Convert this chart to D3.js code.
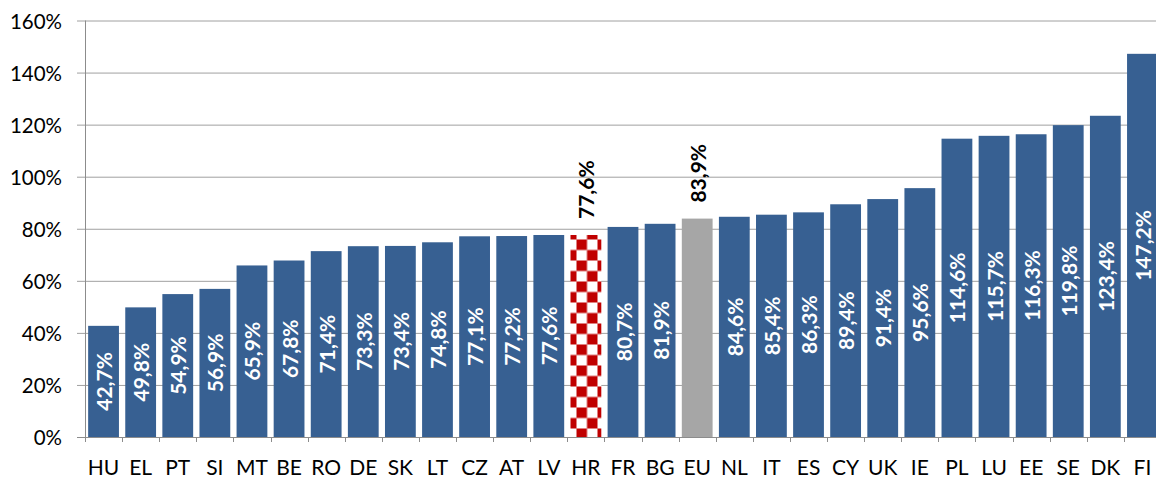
<!DOCTYPE html>
<html><head><meta charset="utf-8">
<script src="https://cdn.jsdelivr.net/npm/d3@7"></script>
<style>body{margin:0;background:#fff}svg{display:block}</style>
</head><body>
<svg id="c" width="1156" height="480"></svg>
<script>
const categories = ["HU","EL","PT","SI","MT","BE","RO","DE","SK","LT","CZ","AT","LV","HR","FR","BG","EU","NL","IT","ES","CY","UK","IE","PL","LU","EE","SE","DK","FI"];
const values = [42.7,49.8,54.9,56.9,65.9,67.8,71.4,73.3,73.4,74.8,77.1,77.2,77.6,77.6,80.7,81.9,83.9,84.6,85.4,86.3,89.4,91.4,95.6,114.6,115.7,116.3,119.8,123.4,147.2];
const yTicks = [0,20,40,60,80,100,120,140,160];
const highlightCountry = "HR";
const averageCategory = "EU";

(function(){
const data = categories.map((c,i)=>({c, v: values[i]}));
const svg = d3.select("#c");
const mLeft = 85, mRight = 1161, mTop = 20.5, mBottom = 437;
const font = "Lato, 'Open Sans', sans-serif";

const x = d3.scaleBand().domain(categories).range([mLeft, mRight]).paddingInner(0.17).paddingOuter(0.085);
const y = d3.scaleLinear().domain([0,160]).range([mBottom, mTop]);
const step = x.step();

// pattern
const defs = svg.append("defs");
const sq = 10.5;
const hx = x(highlightCountry), hv = values[categories.indexOf(highlightCountry)];
const pat = defs.append("pattern").attr("id","checker").attr("patternUnits","userSpaceOnUse")
  .attr("width", sq*2).attr("height", sq*2)
  .attr("x", hx + 6).attr("y", y(hv) + 4.5);
pat.append("rect").attr("width", sq*2).attr("height", sq*2).attr("fill","#fff");
pat.append("rect").attr("width", sq).attr("height", sq).attr("fill","#C00000");
pat.append("rect").attr("x", sq).attr("y", sq).attr("width", sq).attr("height", sq).attr("fill","#C00000");

// gridlines
svg.append("g").selectAll("line").data(yTicks.filter(t=>t>0)).join("line")
  .attr("x1", mLeft-8).attr("x2", mRight).attr("y1", d=>y(d)+0.5).attr("y2", d=>y(d)+0.5)
  .attr("stroke","#A0A0A0").attr("stroke-width",1);
svg.append("line").attr("x1", mLeft-8).attr("x2", mLeft).attr("y1", y(0)+0.5).attr("y2", y(0)+0.5).attr("stroke","#8C8C8C");

// y labels
svg.append("g").selectAll("text").data(yTicks).join("text")
  .attr("x", mLeft-23).attr("y", d=>y(d)).attr("text-anchor","end").attr("dominant-baseline","central")
  .attr("font-family", font).attr("font-size", 20.5).attr("fill","#000")
  .text(d=>d+"%");

// bars
svg.append("g").selectAll("rect").data(data).join("rect")
  .attr("x", d=>x(d.c)).attr("width", x.bandwidth())
  .attr("y", d=>y(d.v)).attr("height", d=>y(0)-y(d.v))
  .attr("fill", d=> d.c===highlightCountry ? "url(#checker)" : d.c===averageCategory ? "#A6A6A6" : "#376092");

// axes lines
svg.append("line").attr("x1", mLeft+0.5).attr("x2", mLeft+0.5).attr("y1", mTop).attr("y2", mBottom+5).attr("stroke","#8C8C8C");
svg.append("line").attr("x1", mLeft).attr("x2", mRight).attr("y1", y(0)+0.5).attr("y2", y(0)+0.5).attr("stroke","#8C8C8C");
svg.append("g").selectAll("line").data(d3.range(categories.length+1)).join("line")
  .attr("x1", i=>Math.round(mLeft + i*step)+0.5).attr("x2", i=>Math.round(mLeft + i*step)+0.5)
  .attr("y1", mBottom).attr("y2", mBottom+5).attr("stroke","#8C8C8C");

// x labels
svg.append("g").selectAll("text").data(categories).join("text")
  .attr("x", d=>x(d)+x.bandwidth()/2).attr("y", 475).attr("text-anchor","middle")
  .attr("font-family", font).attr("font-size", 21).attr("fill","#000").text(d=>d);

// value labels
const fmt = v => v.toFixed(1).replace(".", ",") + "%";
const outside = d => d.c===highlightCountry || d.c===averageCategory;
svg.append("g").selectAll("text").data(data).join("text")
  .attr("transform", d=>{
    const cx = x(d.c)+x.bandwidth()/2;
    if (outside(d)) return `translate(${cx},${y(d.v)-16}) rotate(-90)`;
    return `translate(${cx},${(y(d.v)+y(0))/2}) rotate(-90)`;
  })
  .attr("text-anchor", d=> outside(d) ? "start" : "middle")
  .attr("dominant-baseline","central")
  .attr("font-family", font).attr("font-size", 21).attr("font-weight","bold")
  .attr("fill", d=> outside(d) ? "#000" : "#fff")
  .text(d=>fmt(d.v));
})();
</script>
</body></html>
